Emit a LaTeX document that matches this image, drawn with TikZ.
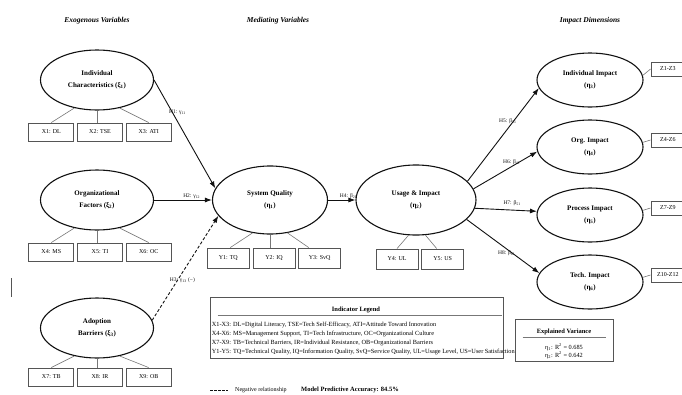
\documentclass[tikz,border=0pt]{standalone}
\usepackage{fontspec}
\setmainfont{Liberation Serif}
\definecolor{semBlack}{HTML}{111111}
\definecolor{semGrey}{HTML}{555555}
\definecolor{semLink}{HTML}{777777}
\usetikzlibrary{arrows.meta, positioning, shapes.geometric}
\tikzset{
    latent node/.style={ellipse, draw=semBlack, line width=1.1pt, inner sep=0pt, align=center, font=\fontsize{7}{12}\selectfont\bfseries},
    indicator node/.style={rectangle, draw=semGrey, line width=0.7pt, minimum width=45pt, minimum height=18pt, inner sep=0pt, font=\fontsize{6}{7}\selectfont},
    zbox node/.style={rectangle, draw=semGrey, line width=0.7pt, minimum width=34pt, minimum height=14pt, inner sep=0pt, font=\fontsize{6}{7}\selectfont},
    panel node/.style={rectangle, draw=semGrey, line width=0.8pt, fill=white, inner sep=0pt},
    arrow style/.style={-{Latex[length=7pt, width=5pt]}, line width=0.9pt, semBlack},
    link style/.style={semLink, line width=0.6pt},
    rule style/.style={semLink, line width=0.5pt},
    path label/.style={font=\fontsize{5.5}{6}\selectfont, inner sep=1pt},
    heading/.style={font=\fontsize{7.5}{9}\selectfont\bfseries\itshape},
    legend text/.style={font=\fontsize{6.3}{9}\selectfont, align=left, inner sep=0pt},
}

\begin{document}
\begin{tikzpicture}[x=1pt, y=-1pt, node distance=3pt]
    \useasboundingbox (0,0) rectangle (682,394);

    \node[heading] (exo) at (97,21) {Exogenous Variables};
    \node[heading] (med) at (278,21) {Mediating Variables};
    \node[heading] (imp) at (590,21) {Impact Dimensions};

    \node[latent node, minimum width=113pt, minimum height=60pt] (ind) at (97,80) {Individual\\Characteristics (ξ\textsubscript{1})};
    \node[latent node, minimum width=113pt, minimum height=60pt] (org) at (97,200) {Organizational\\Factors (ξ\textsubscript{2})};
    \node[latent node, minimum width=113pt, minimum height=60pt] (bar) at (97,328) {Adoption\\Barriers (ξ\textsubscript{3})};
    \node[latent node, minimum width=115pt, minimum height=68pt] (sq) at (270,200) {System Quality\\(η\textsubscript{1})};
    \node[latent node, minimum width=120pt, minimum height=70pt] (ui) at (416,200) {Usage \& Impact\\(η\textsubscript{2})};
    \node[latent node, minimum width=106pt, minimum height=54pt] (ii) at (590,80) {Individual Impact\\(η\textsubscript{3})};
    \node[latent node, minimum width=106pt, minimum height=54pt] (oi) at (590,147) {Org. Impact\\(η\textsubscript{4})};
    \node[latent node, minimum width=106pt, minimum height=54pt] (pi) at (590,215) {Process Impact\\(η\textsubscript{5})};
    \node[latent node, minimum width=106pt, minimum height=54pt] (ti) at (590,282) {Tech. Impact\\(η\textsubscript{6})};

    \node[indicator node, below=12pt of ind, xshift=3pt] (x2) {X2: TSE};
    \node[indicator node, left=of x2] (x1) {X1: DL};
    \node[indicator node, right=of x2] (x3) {X3: ATI};
    \node[indicator node, below=12pt of org, xshift=3pt] (x5) {X5: TI};
    \node[indicator node, left=of x5] (x4) {X4: MS};
    \node[indicator node, right=of x5] (x6) {X6: OC};
    \node[indicator node, below=9pt of bar, xshift=3pt] (x8) {X8: IR};
    \node[indicator node, left=of x8] (x7) {X7: TB};
    \node[indicator node, right=of x8] (x9) {X9: OB};

    \node[indicator node, minimum width=42pt, minimum height=20pt, below=13pt of sq, xshift=4pt] (y2) {Y2: IQ};
    \node[indicator node, minimum width=42pt, minimum height=20pt, left=of y2] (y1) {Y1: TQ};
    \node[indicator node, minimum width=42pt, minimum height=20pt, right=of y2] (y3) {Y3: SvQ};
    \node[indicator node, minimum width=42pt, minimum height=20pt, below=13pt of ui, xshift=-19pt] (y4) {Y4: UL};
    \node[indicator node, minimum width=42pt, minimum height=20pt, right=of y4] (y5) {Y5: US};

    \node[zbox node, right=7pt of ii, yshift=11pt] (z1) {Z1-Z3};
    \node[zbox node, right=7pt of oi, yshift=7pt] (z2) {Z4-Z6};
    \node[zbox node, right=7pt of pi, yshift=7pt] (z3) {Z7-Z9};
    \node[zbox node, right=7pt of ti, yshift=7pt] (z4) {Z10-Z12};

    \draw[link style] (ind.231) -- (x1.north);
    \draw[link style] (ind.south) -- (ind.south |- x2.north);
    \draw[link style] (ind.309) -- (x3.north);
    \draw[link style] (org.231) -- (x4.north);
    \draw[link style] (org.south) -- (org.south |- x5.north);
    \draw[link style] (org.309) -- (x6.north);
    \draw[link style] (bar.231) -- (x7.north);
    \draw[link style] (bar.south) -- (bar.south |- x8.north);
    \draw[link style] (bar.309) -- (x9.north);
    \draw[link style] (sq.242) -- ([xshift=2pt]y1.north);
    \draw[link style] (sq.south) -- (sq.south |- y2.north);
    \draw[link style] (sq.298) -- ([xshift=-11pt]y3.north);
    \draw[link style] (ui.258) -- (y4.north);
    \draw[link style] (ui.285) -- ([xshift=-6pt]y5.north);
    \draw[link style] (ii.5) -- (z1.west);
    \draw[link style] (oi.5) -- (z2.west);
    \draw[link style] (pi.5) -- (z3.west);
    \draw[link style] (ti.5) -- (z4.west);

    \draw[arrow style] (ind.east) -- (sq.168) node[path label, pos=0.3, xshift=5pt] {H1: γ\textsubscript{11}};
    \draw[arrow style] (org.east) -- (sq.west) node[path label, pos=0.65, above] {H2: γ\textsubscript{12}};
    \draw[arrow style, dash pattern=on 3pt off 2pt] (bar.8) -- (sq.197) node[path label, pos=0.38, xshift=5pt] {H3: γ\textsubscript{13} (−)};
    \draw[arrow style] (sq.east) -- (ui.west) node[path label, pos=0.75, above] {H4: β\textsubscript{21}};
    \draw[arrow style] (ui.20) -- (ii.189) node[path label, pos=0.65, xshift=-6pt] {H5: β\textsubscript{31}};
    \draw[arrow style] (ui.11) -- (oi.185) node[path label, pos=0.6, above] {H6: β\textsubscript{41}};
    \draw[arrow style] (ui.-8) -- (pi.176) node[path label, pos=0.6, above=3pt] {H7: β\textsubscript{51}};
    \draw[arrow style] (ui.-21) -- (ti.170) node[path label, pos=0.55, below=0pt] {H8: β\textsubscript{61}};

    \node[panel node, minimum width=293pt, minimum height=61pt] (legend) at (356.5,327.5) {};
    \node[font=\fontsize{6.5}{8}\selectfont\bfseries] (legtitle) at (356,310) {Indicator Legend};
    \draw[rule style] ([xshift=8pt, yshift=-19pt]legend.north west) -- ([xshift=-1pt, yshift=-19pt]legend.north east);
    \node[legend text, anchor=north west] (legbody) at ([xshift=2pt, yshift=-25pt]legend.north west)
        {X1-X3: DL=Digital Literacy, TSE=Tech Self-Efficacy, ATI=Attitude Toward Innovation\\
         X4-X6: MS=Management Support, TI=Tech Infrastructure, OC=Organizational Culture\\
         X7-X9: TB=Technical Barriers, IR=Individual Resistance, OB=Organizational Barriers\\
         Y1-Y5: TQ=Technical Quality, IQ=Information Quality, SvQ=Service Quality, UL=Usage Level, US=User Satisfaction};

    \node[panel node, minimum width=98pt, minimum height=42pt] (expl) at (564,340) {};
    \node[font=\fontsize{6.5}{8}\selectfont\bfseries] (expltitle) at (564,332) {Explained Variance};
    \draw[rule style] ([xshift=8pt, yshift=-19pt]expl.north west) -- ([xshift=-7pt, yshift=-19pt]expl.north east);
    \node[font=\fontsize{6.3}{8}\selectfont, align=center, inner sep=0pt] (explbody) at (564,351)
        {η\textsubscript{1}: R\textsuperscript{2} = 0.685\\η\textsubscript{2}: R\textsuperscript{2} = 0.642};

    \coordinate (negA) at (210,390);
    \coordinate (negB) at (228,390);
    \draw[semBlack, line width=0.7pt, dash pattern=on 2.5pt off 1.5pt] (negA) -- (negB);
    \node[font=\fontsize{6}{7}\selectfont, inner sep=0pt, right=7pt of negB] (negtext) {Negative relationship};
    \node[font=\fontsize{6.5}{8}\selectfont\bfseries] (acc) at (350,390) {Model Predictive Accuracy: 84.5\%};

    \draw[semGrey, line width=0.6pt] (11,278) -- (11,297);
\end{tikzpicture}
\end{document}
